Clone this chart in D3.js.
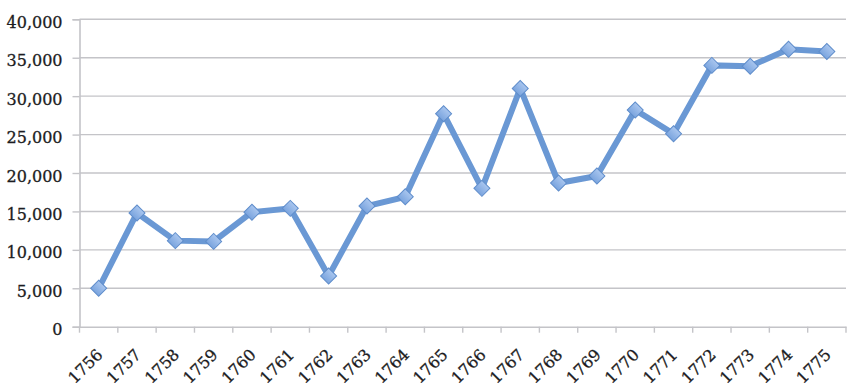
<!DOCTYPE html>
<html>
<head>
<meta charset="utf-8">
<script src="https://cdnjs.cloudflare.com/ajax/libs/d3/7.8.5/d3.min.js"></script>
<style>
  html, body { margin: 0; padding: 0; background: #fff; }
  svg { display: block; }
</style>
</head>
<body>
<svg id="chart" width="859" height="391"></svg>
<script>
const years = ["1756","1757","1758","1759","1760","1761","1762","1763","1764","1765",
               "1766","1767","1768","1769","1770","1771","1772","1773","1774","1775"];
const values = [5000, 14800, 11200, 11100, 14900, 15400, 6600, 15700, 16900, 27700,
                18000, 31000, 18700, 19600, 28200, 25100, 34000, 33900, 36100, 35800];
const yTicks = [0, 5000, 10000, 15000, 20000, 25000, 30000, 35000, 40000];

(function () {
const svg = d3.select("#chart");
const pLeft = 79.5, pRight = 846, pTop = 19.3, pBottom = 326.7;

const x = d3.scaleBand().domain(years).range([pLeft, pRight]).paddingInner(0).paddingOuter(0);
const y = d3.scaleLinear().domain([0, 40000]).range([pBottom, pTop]);

const gridColor = "#c4c4c8";
const textColor = "#1c1c22";
const fontFam = "'DejaVu Serif', 'Liberation Serif', serif";

// gridlines
svg.append("g").selectAll("line").data(yTicks.filter(d => d > 0)).join("line")
  .attr("x1", pLeft).attr("x2", pRight)
  .attr("y1", d => y(d)).attr("y2", d => y(d))
  .attr("stroke", gridColor).attr("stroke-width", 1.4);

// y axis
const yAxis = svg.append("g").attr("transform", `translate(${pLeft},0)`)
  .call(d3.axisLeft(y).tickValues(yTicks).tickSize(7).tickPadding(10).tickFormat(d3.format(",")));
yAxis.select(".domain").attr("stroke", gridColor).attr("stroke-width", 1.6);
yAxis.selectAll(".tick line").attr("stroke", gridColor).attr("stroke-width", 1.4);
yAxis.selectAll(".tick text").attr("font-family", fontFam).attr("font-size", 16)
  .attr("fill", textColor).attr("stroke", textColor).attr("stroke-width", 0.3)
  .attr("dy", "0.5em");

// x axis
const xAxis = svg.append("g").attr("transform", `translate(0,${pBottom})`)
  .call(d3.axisBottom(x).tickSize(0).tickFormat(""));
xAxis.select(".domain").attr("stroke", gridColor).attr("stroke-width", 1.6);
// ticks at band boundaries
const bounds = years.map(d => x(d)).concat([x(years[years.length - 1]) + x.bandwidth()]);
svg.append("g").selectAll("line").data(bounds).join("line")
  .attr("x1", d => d).attr("x2", d => d)
  .attr("y1", pBottom).attr("y2", pBottom + 6)
  .attr("stroke", gridColor).attr("stroke-width", 1.4);
// x labels
svg.append("g").selectAll("text").data(years).join("text")
  .attr("transform", d => `translate(${x(d) + x.bandwidth() / 2 + 5},${pBottom + 29}) rotate(-45)`)
  .attr("text-anchor", "end")
  .attr("font-family", fontFam).attr("font-size", 16)
  .attr("fill", textColor).attr("stroke", textColor).attr("stroke-width", 0.3)
  .text(d => d);

// line
const pts = years.map((d, i) => [x(d) + x.bandwidth() / 2, y(values[i])]);
svg.append("path")
  .attr("d", d3.line()(pts))
  .attr("fill", "none").attr("stroke", "#6a98d4").attr("stroke-width", 6)
  .attr("stroke-linejoin", "miter");

// markers
const defs = svg.append("defs");
const grad = defs.append("linearGradient").attr("id", "mk").attr("x1", 0).attr("y1", 0).attr("x2", 0).attr("y2", 1);
grad.append("stop").attr("offset", "0%").attr("stop-color", "#a9c6ef");
grad.append("stop").attr("offset", "100%").attr("stop-color", "#7aa4de");
const sym = d3.symbol().type(d3.symbolSquare).size(128);
svg.append("g").selectAll("path").data(pts).join("path")
  .attr("transform", d => `translate(${d[0]},${d[1]}) rotate(45)`)
  .attr("d", sym)
  .attr("fill", "url(#mk)").attr("stroke", "#5f8dcb").attr("stroke-width", 1);
})();
</script>
</body>
</html>
